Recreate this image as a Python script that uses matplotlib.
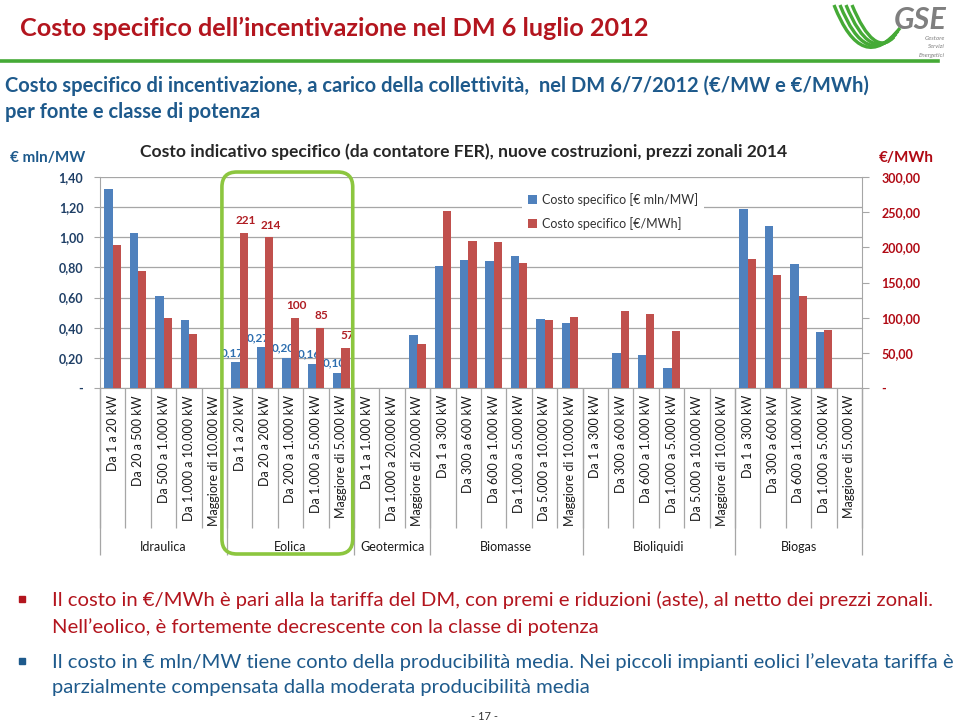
import matplotlib
matplotlib.use("Agg")
import matplotlib.pyplot as plt
import matplotlib.transforms as mtransforms
from matplotlib.patches import FancyBboxPatch, Rectangle, PathPatch
from matplotlib.path import Path
from matplotlib.lines import Line2D
import numpy as np

plt.rcParams['font.family'] = ['Lato', 'DejaVu Sans']

nan = np.nan

# fonti e classi di potenza
groups = ['Idraulica', 'Eolica', 'Geotermica', 'Biomasse', 'Bioliquidi', 'Biogas']
classes = [
    ['Da 1 a 20 kW', 'Da 20 a 500 kW', 'Da 500 a 1.000 kW', 'Da 1.000 a 10.000 kW', 'Maggiore di 10.000 kW'],
    ['Da 1 a 20 kW', 'Da 20 a 200 kW', 'Da 200 a 1.000 kW', 'Da 1.000 a 5.000 kW', 'Maggiore di 5.000 kW'],
    ['Da 1 a 1.000 kW', 'Da 1.000 a 20.000 kW', 'Maggiore di 20.000 kW'],
    ['Da 1 a 300 kW', 'Da 300 a 600 kW', 'Da 600 a 1.000 kW', 'Da 1.000 a 5.000 kW',
     'Da 5.000 a 10.000 kW', 'Maggiore di 10.000 kW'],
    ['Da 1 a 300 kW', 'Da 300 a 600 kW', 'Da 600 a 1.000 kW', 'Da 1.000 a 5.000 kW',
     'Da 5.000 a 10.000 kW', 'Maggiore di 10.000 kW'],
    ['Da 1 a 300 kW', 'Da 300 a 600 kW', 'Da 600 a 1.000 kW', 'Da 1.000 a 5.000 kW', 'Maggiore di 5.000 kW'],
]

# costo specifico [€ mln/MW] (asse sinistro)
mln_mw = [1.32, 1.03, 0.61, 0.45, nan,
          0.17, 0.27, 0.20, 0.16, 0.10,
          nan, nan, 0.35,
          0.81, 0.85, 0.845, 0.875, 0.46, 0.43,
          nan, 0.23, 0.22, 0.13, nan, nan,
          1.19, 1.075, 0.82, 0.37, nan]
# costo specifico [€/MWh] (asse destro)
eur_mwh = [203, 167, 100, 77, nan,
           221, 214, 100, 85, 57,
           nan, nan, 62,
           252, 209, 207, 178, 97, 101,
           nan, 109, 105, 81, nan, nan,
           183, 161, 131, 82, nan]

left_ticks = [0, 0.2, 0.4, 0.6, 0.8, 1.0, 1.2, 1.4]
right_ticks = [0, 50, 100, 150, 200, 250, 300]
labelled_group = 'Eolica'

W, H = 959, 726
BLUE = '#4F81BD'
RED = '#C0504D'
GRID = '#A6A6A6'
TITLE_RED = '#B3151E'
TEAL = '#1E5A8C'
GREEN = '#45AA36'


def px(x, y):
    return x / W, 1 - y / H


fig = plt.figure(figsize=(W / 100, H / 100), dpi=100)
fig.patch.set_facecolor('white')

ax = fig.add_axes([100 / W, 1 - 388 / H, 762 / W, 211 / H])
ax2 = ax.twinx()

labels = [c for g in classes for c in g]
x = np.arange(len(labels))
bw = 0.33

ax.bar(x - bw / 2, mln_mw, bw, color=BLUE, label='Costo specifico [€ mln/MW]', zorder=3)
ax2.bar(x + bw / 2, eur_mwh, bw, color=RED, label='Costo specifico [€/MWh]', zorder=3)

ax.set_xlim(-0.5, len(labels) - 0.5)
ax.set_ylim(0, 1.4)
ax2.set_ylim(0, 300)

ax.set_yticks(left_ticks)
ax.set_yticklabels(['-' if v == 0 else f'{v:.2f}'.replace('.', ',') for v in left_ticks])
ax2.set_yticks(right_ticks)
ax2.set_yticklabels(['-' if v == 0 else f'{v:.2f}'.replace('.', ',') for v in right_ticks])

ax.yaxis.grid(True, color=GRID, lw=0.9, zorder=0)
ax.set_axisbelow(True)

ax.tick_params(axis='y', length=4, color=GRID, pad=8, labelsize=9, labelcolor='#1F3F66')
for t in ax.get_yticklabels():
    t.set_fontweight('bold')
ax2.tick_params(axis='y', length=5, color=GRID, pad=9, labelsize=9, labelcolor='#B00A14')
for t in ax2.get_yticklabels():
    t.set_fontweight('bold')

ax.set_xticks(x)
ax.set_xticklabels(labels, rotation=90, fontsize=9, color='#1A1A1A')
ax.tick_params(axis='x', length=0, pad=5)

for s in ['top', 'right']:
    ax.spines[s].set_visible(False)
for s in ['top', 'left', 'bottom']:
    ax2.spines[s].set_visible(False)
ax.spines['left'].set_color(GRID)
ax.spines['bottom'].set_color(GRID)
ax2.spines['right'].set_color(GRID)

# separatori delle categorie e delle fonti sotto l'asse
trans = mtransforms.blended_transform_factory(ax.transData, ax.transAxes)
bounds = np.cumsum([0] + [len(g) for g in classes]) - 0.5
ax.vlines(np.arange(-0.5, len(labels), 1), -0.664, 0, transform=trans,
          colors=GRID, lw=0.9, clip_on=False)
ax.vlines(bounds, -0.791, 0, transform=trans, colors=GRID, lw=0.9, clip_on=False)
for g, a, b in zip(groups, bounds[:-1], bounds[1:]):
    ax.text((a + b) / 2, -0.754, g, transform=trans, ha='center', va='center',
            fontsize=9, color='#1A1A1A')

# etichette dati eolico
gi = groups.index(labelled_group)
for i in range(int(bounds[gi] + 0.5), int(bounds[gi + 1] + 0.5)):
    ax.annotate(f'{mln_mw[i]:.2f}'.replace('.', ','), (x[i] - bw / 2, mln_mw[i]),
                xytext=(-2, 3), textcoords='offset points', ha='center', va='bottom',
                fontsize=8.5, fontweight='bold', color='#2E6FB0', zorder=5)
    ax2.annotate(f'{eur_mwh[i]:.0f}', (x[i] + bw / 2, eur_mwh[i]),
                 xytext=(1, 5), textcoords='offset points', ha='center', va='bottom',
                 fontsize=8.5, fontweight='bold', color='#B01E24', zorder=5)

h1, l1 = ax.get_legend_handles_labels()
h2, l2 = ax2.get_legend_handles_labels()
leg = ax2.legend(h1 + h2, l1 + l2, loc='upper left', bbox_to_anchor=(0.545, 0.985),
                 frameon=True, fancybox=False, facecolor='white', edgecolor='none',
                 framealpha=1, fontsize=9, handlelength=0.7, handleheight=0.7,
                 handletextpad=0.4, labelspacing=0.9, borderpad=0.5)
for t in leg.get_texts():
    t.set_color('#333333')
leg.set_zorder(10)

# riquadro verde attorno all'eolico
x0 = ax.transData.transform((bounds[gi] - 0.2, 0))[0]
x1 = ax.transData.transform((bounds[gi + 1] - 0.05, 0))[0]
box = FancyBboxPatch((x0, H - 554), x1 - x0, 554 - 172,
                     boxstyle='round,pad=0,rounding_size=15',
                     transform=mtransforms.IdentityTransform(),
                     fill=False, ec='#8CC63F', lw=2.6, zorder=20)
fig.add_artist(box)

# testi
fig.text(*px(20, 28), 'Costo specifico dell’incentivazione nel DM 6 luglio 2012',
         fontsize=18.2, fontweight='bold', color=TITLE_RED, va='center')
fig.add_artist(Line2D([0, 938 / W], [1 - 61 / H] * 2, transform=fig.transFigure,
                      color=GREEN, lw=2.6))
fig.text(*px(5, 86), 'Costo specifico di incentivazione, a carico della collettività,  '
         'nel DM 6/7/2012 (€/MW e €/MWh)', fontsize=14.5, fontweight='bold',
         color=TEAL, va='center')
fig.text(*px(5, 112), 'per fonte e classe di potenza', fontsize=14.5,
         fontweight='bold', color=TEAL, va='center')
fig.text(*px(140, 152), 'Costo indicativo specifico (da contatore FER), nuove costruzioni, '
         'prezzi zonali 2014', fontsize=12.6, fontweight='bold', color='#262626', va='center')
fig.text(*px(10, 158), '€ mln/MW', fontsize=11, fontweight='bold', color=TEAL, va='center')
fig.text(*px(879, 158), '€/MWh', fontsize=11, fontweight='bold', color='#B00A14', va='center')

# logo GSE
for k in range(4):
    verts = [px(834 + 6 * k, 5), px(862 + 4 * k, 76 - 6 * k), px(900 - 2 * k, 28 + 3 * k)]
    fig.add_artist(PathPatch(Path(verts, [Path.MOVETO, Path.CURVE3, Path.CURVE3]),
                             transform=fig.transFigure, fill=False, ec=GREEN, lw=2.4))
fig.text(*px(947, 20), 'GSE', fontsize=22, fontweight='bold', style='italic',
         color='#7F7F7F', ha='right', va='center')
for j, w in enumerate(['Gestore', 'Servizi', 'Energetici']):
    fig.text(*px(945, 39 + j * 8), w, fontsize=4.5, style='italic', color='#7F7F7F',
             ha='right', va='center')

# note
for yy, col in [(599, TITLE_RED), (661, TEAL)]:
    fig.add_artist(Rectangle(px(19, yy + 3), 6 / W, 6 / H, transform=fig.transFigure,
                             color=col))
fs = 14.6
fig.text(*px(52, 600), 'Il costo in €/MWh è pari alla la tariffa del DM, con premi e riduzioni '
         '(aste), al netto dei prezzi zonali.', fontsize=fs, color=TITLE_RED, va='center')
fig.text(*px(52, 627), 'Nell’eolico, è fortemente decrescente con la classe di potenza',
         fontsize=fs, color=TITLE_RED, va='center')
fig.text(*px(52, 662), 'Il costo in € mln/MW tiene conto della producibilità media. Nei piccoli '
         'impianti eolici l’elevata tariffa è', fontsize=fs, color=TEAL, va='center')
fig.text(*px(52, 688), 'parzialmente compensata dalla moderata producibilità media',
         fontsize=fs, color=TEAL, va='center')
fig.text(*px(484, 717), '- 17 -', fontsize=8, color='#333333', ha='center', va='center')

fig.savefig('out.png', dpi=100, facecolor='white')
